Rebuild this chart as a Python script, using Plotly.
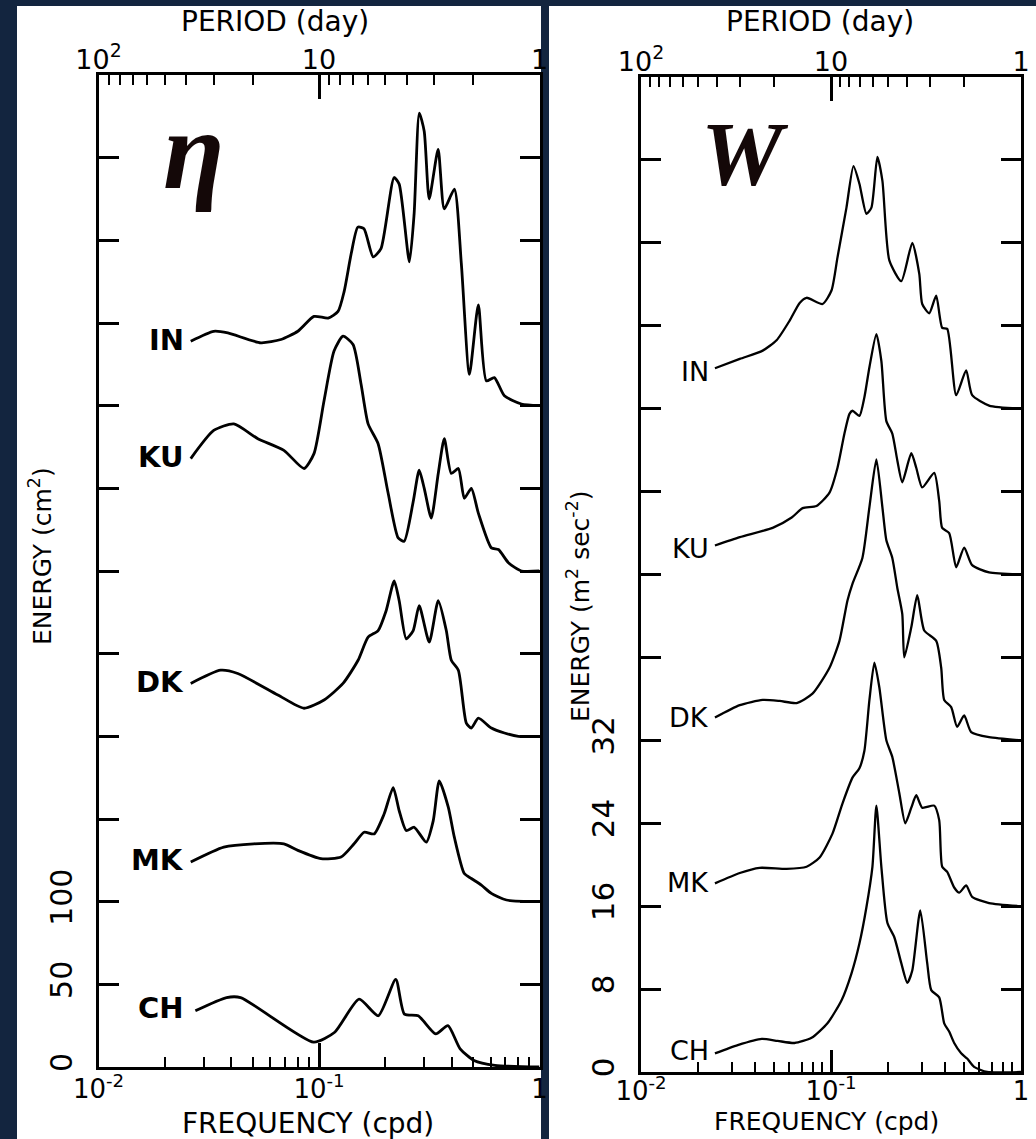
import plotly.graph_objects as go

# ---------------- data (frequency in cpd, energy in panel units) ----------------
# Left panel: sea level eta, energy (cm^2); each station offset by 100
IN_L_F = [0.0262, 0.0333, 0.0386, 0.0545, 0.0672, 0.0802, 0.0949, 0.110, 0.122, 0.130, 0.140, 0.150, 0.160,
          0.176, 0.191, 0.219, 0.231, 0.257, 0.270, 0.285, 0.300, 0.316, 0.347, 0.370, 0.411, 0.442, 0.481,
          0.528, 0.574, 0.624, 0.693, 0.828, 1.0]
IN_L_E = [439, 445, 444, 438, 440, 445, 454, 453, 457, 469, 492, 508, 507, 490, 495, 538, 534, 487, 516, 577,
          566, 525, 555, 519, 531, 486, 419, 461, 415, 417, 406, 401, 400]

KU_L_F = [0.0262, 0.0333, 0.0411, 0.0528, 0.0693, 0.0855, 0.0949, 0.1054, 0.1170, 0.1285, 0.1427, 0.1552,
          0.1670, 0.1854, 0.2059, 0.2286, 0.2434, 0.2675, 0.2847, 0.3001, 0.3229, 0.3474, 0.3700, 0.3981,
          0.4285, 0.4560, 0.4908, 0.5280, 0.6049, 0.6512, 0.7228, 0.8284, 1.0]
KU_L_E = [368, 385, 389, 380, 373, 362, 371, 403, 433, 442, 437, 413, 389, 377, 347, 320, 318, 342, 361, 350,
          332, 359, 380, 359, 362, 344, 350, 335, 314, 313, 305, 300, 300]

DK_L_F = [0.0262, 0.0358, 0.0428, 0.0651, 0.0855, 0.1054, 0.1285, 0.1504, 0.1670, 0.1854, 0.2016, 0.2193,
          0.2310, 0.2486, 0.2675, 0.2847, 0.3162, 0.3474, 0.3778, 0.3981, 0.4285, 0.4657, 0.4908, 0.5280,
          0.6049, 0.6934, 0.8026, 1.0]
DK_L_E = [232, 240, 238, 225, 217, 222, 232, 246, 260, 264, 276, 294, 282, 259, 264, 279, 257, 282, 264, 246,
          240, 208, 205, 211, 205, 202, 200, 200]

MK_L_F = [0.0262, 0.0370, 0.0506, 0.0693, 0.0802, 0.1021, 0.1259, 0.1442, 0.1602, 0.1778, 0.1974, 0.2170,
          0.2310, 0.2486, 0.2703, 0.3065, 0.3297, 0.3511, 0.3860, 0.4109, 0.4560, 0.4908, 0.5450, 0.6049,
          0.7080, 1.0]
MK_L_E = [124, 133, 135, 135, 131, 126, 127, 135, 142, 141, 153, 169, 155, 143, 145, 136, 149, 173, 157, 139,
          117, 114, 110, 105, 101, 100]

CH_L_F = [0.0275, 0.0381, 0.0441, 0.0946, 0.1178, 0.1520, 0.1857, 0.2229, 0.2440, 0.2819, 0.3385, 0.3843,
          0.4366, 0.5047, 0.6281, 1.0]
CH_L_E = [34, 42, 42, 15, 21, 41, 31, 53, 32, 31, 20, 25, 11, 4, 1, 0]

# Right panel: wind stress W, energy (m^2 sec^-2); each station offset by 16
IN_R_F = [0.0245, 0.0331, 0.0437, 0.0517, 0.0606, 0.0684, 0.0744, 0.0903, 0.1006, 0.1082, 0.1206, 0.1313,
          0.1411, 0.1536, 0.1632, 0.1754, 0.1864, 0.2028, 0.2344, 0.2678, 0.2915, 0.3021, 0.3288, 0.3579,
          0.3848, 0.4089, 0.4559, 0.5145, 0.5533, 0.6792, 1.0]
IN_R_E = [67.9, 68.8, 69.6, 70.6, 72.5, 74.2, 74.7, 74.1, 75.4, 78.6, 83.4, 87.4, 85.7, 82.8, 83.4, 88.3,
          86.0, 78.3, 76.3, 80.0, 77.0, 74.1, 73.2, 74.9, 71.8, 71.7, 65.3, 67.7, 65.3, 64.3, 64.0]

KU_R_F = [0.0245, 0.0331, 0.0493, 0.0621, 0.0709, 0.0839, 0.0982, 0.1082, 0.1177, 0.1251, 0.1297, 0.1411,
          0.1499, 0.1593, 0.1733, 0.1841, 0.1956, 0.2102, 0.2234, 0.2372, 0.2646, 0.2810, 0.3021, 0.3494,
          0.3711, 0.3848, 0.4188, 0.4559, 0.5022, 0.5533, 0.6792, 1.0]
KU_R_E = [50.8, 51.6, 52.5, 53.5, 54.4, 54.6, 55.9, 58.3, 61.6, 63.5, 63.8, 63.3, 65.1, 68.0, 71.2, 68.6,
          62.8, 61.6, 59.0, 56.9, 59.7, 58.3, 56.4, 57.8, 55.1, 52.5, 52.0, 48.7, 50.6, 48.9, 48.2, 48.0]

DK_R_F = [0.0245, 0.0331, 0.0437, 0.0537, 0.0659, 0.0799, 0.0982, 0.1108, 0.1221, 0.1297, 0.1463, 0.1593,
          0.1733, 0.1864, 0.1956, 0.2102, 0.2234, 0.2372, 0.2430, 0.2646, 0.2845, 0.3095, 0.3579, 0.3802,
          0.3943, 0.4291, 0.4613, 0.5022, 0.5466, 0.6792, 1.0]
DK_R_E = [34.2, 35.4, 35.9, 35.8, 35.6, 36.5, 39.0, 41.6, 45.5, 47.1, 49.6, 54.5, 59.1, 54.5, 51.3, 49.6,
          46.7, 44.2, 40.0, 42.9, 46.0, 42.6, 41.6, 39.0, 35.9, 35.2, 33.3, 34.4, 32.8, 32.3, 32.0]

MK_R_F = [0.0245, 0.0331, 0.0421, 0.0584, 0.0744, 0.0871, 0.1018, 0.1149, 0.1297, 0.1411, 0.1499, 0.1593,
          0.1692, 0.1797, 0.1956, 0.2102, 0.2289, 0.2460, 0.2646, 0.2810, 0.3021, 0.3494, 0.3711, 0.3848,
          0.4089, 0.4450, 0.4727, 0.5145, 0.5533, 0.6792, 1.0]
MK_R_E = [18.2, 19.2, 19.7, 19.6, 19.8, 20.7, 23.0, 25.9, 28.4, 29.3, 31.0, 35.9, 39.5, 37.1, 32.0, 30.4,
          26.9, 24.0, 25.5, 26.7, 25.5, 25.7, 24.3, 19.8, 19.3, 17.8, 17.3, 18.0, 16.9, 16.3, 16.0]

CH_R_F = [0.0245, 0.0323, 0.0432, 0.0524, 0.0643, 0.0790, 0.0958, 0.1135, 0.1281, 0.1411, 0.1536, 0.1652,
          0.1733, 0.1841, 0.1980, 0.2154, 0.2344, 0.2521, 0.2678, 0.2950, 0.3209, 0.3369, 0.3711, 0.3943,
          0.4188, 0.4450, 0.4842, 0.5207, 0.5664, 0.6632, 1.0]
CH_R_E = [1.8, 2.6, 3.2, 3.0, 2.8, 3.3, 4.7, 6.9, 9.5, 12.4, 15.9, 19.8, 25.7, 19.8, 14.4, 13.0, 10.5, 8.6,
          9.8, 15.6, 10.5, 7.9, 7.2, 4.7, 3.9, 2.8, 1.8, 1.3, 0.5, 0.0, 0.0]

STATIONS = ["IN", "KU", "DK", "MK", "CH"]

# tick definitions
FREQ_MAJOR = [0.01, 0.1, 1]
FREQ_MAJOR_TEXT = ["10<sup>-2</sup>", "10<sup>-1</sup>", "1"]
FREQ_MINOR = [0.02, 0.03, 0.04, 0.05, 0.06, 0.07, 0.08, 0.09, 0.2, 0.3, 0.4, 0.5, 0.6, 0.7, 0.8, 0.9]
PERIOD_MAJOR = [100, 10, 1]
PERIOD_MAJOR_TEXT = ["10<sup>2</sup>", "10", "1"]
PERIOD_MINOR = [90, 80, 70, 60, 50, 40, 30, 20, 9, 8, 7, 6, 5, 4, 3, 2]

Y_L_TICKS = [0, 50, 100]
Y_L_TEXT = ["0", "50", "100"]
Y_L_UNLABELLED = [150, 200, 250, 300, 350, 400, 450, 500, 550, 600]
Y_R_TICKS = [0, 8, 16, 24, 32]
Y_R_TEXT = ["0", "8", "16", "24", "32"]
Y_R_UNLABELLED = [40, 48, 56, 64, 72, 80, 88, 96]

# ---------------- figure ----------------
W, H = 1036, 1139
NAVY = "#13253f"
FONT = "DejaVu Sans"


def fx(p):
    return p / W


def fy(p):
    return 1 - p / H


fig = go.Figure()

left = [(IN_L_F, IN_L_E), (KU_L_F, KU_L_E), (DK_L_F, DK_L_E), (MK_L_F, MK_L_E), (CH_L_F, CH_L_E)]
right = [(IN_R_F, IN_R_E), (KU_R_F, KU_R_E), (DK_R_F, DK_R_E), (MK_R_F, MK_R_E), (CH_R_F, CH_R_E)]

for name, (f, e) in zip(STATIONS, left):
    fig.add_trace(go.Scatter(x=f, y=e, mode="lines", name=name, xaxis="x", yaxis="y",
                             line=dict(color="black", width=2.8, shape="spline", smoothing=0.6),
                             hoverinfo="skip", showlegend=False))
for name, (f, e) in zip(STATIONS, right):
    fig.add_trace(go.Scatter(x=f, y=e, mode="lines", name=name, xaxis="x2", yaxis="y2",
                             line=dict(color="black", width=2.3, shape="spline", smoothing=0.6),
                             hoverinfo="skip", showlegend=False))

# empty traces so that the top (period) axes are drawn
fig.add_trace(go.Scatter(x=[], y=[], xaxis="x3", yaxis="y", showlegend=False, hoverinfo="skip"))
fig.add_trace(go.Scatter(x=[], y=[], xaxis="x4", yaxis="y2", showlegend=False, hoverinfo="skip"))


def xax(domain, anchor, lw, major_len, standoff):
    return dict(type="log", range=[-2, 0], domain=domain, anchor=anchor, automargin=False,
                showline=True, linewidth=lw, linecolor="black", mirror=True,
                ticks="inside", ticklen=major_len, tickwidth=2.5, tickcolor="black",
                tickmode="array", tickvals=FREQ_MAJOR, ticktext=FREQ_MAJOR_TEXT, ticklabelstandoff=standoff,
                tickfont=dict(family=FONT, size=26, color="black"),
                minor=dict(tickmode="array", tickvals=FREQ_MINOR, ticks="inside", ticklen=10,
                           tickwidth=2, tickcolor="black", showgrid=False),
                showgrid=False, zeroline=False, fixedrange=True)


def topax(overlay, anchor):
    return dict(type="log", range=[-2, 0], overlaying=overlay, anchor=anchor, side="top", automargin=False,
                showline=False, ticks="inside", ticklen=24, tickwidth=2.5, tickcolor="black",
                tickmode="array", tickvals=[1 / p for p in PERIOD_MAJOR], ticktext=PERIOD_MAJOR_TEXT,
                tickfont=dict(family=FONT, size=27, color="black"),
                minor=dict(tickmode="array", tickvals=[1 / p for p in PERIOD_MINOR], ticks="inside",
                           ticklen=10, tickwidth=2, tickcolor="black", showgrid=False),
                showgrid=False, zeroline=False, fixedrange=True)


def yax(domain, anchor, rng, tv, tt, minor_vals, lw, size):
    return dict(range=rng, domain=domain, anchor=anchor, automargin=False,
                showline=True, linewidth=lw, linecolor="black",
                mirror="ticks", ticks="inside", ticklen=20, tickwidth=2.5, tickcolor="black",
                tickmode="array", tickvals=tv, ticktext=tt, tickangle=-90, ticklabelstandoff=12,
                tickfont=dict(family=FONT, size=size, color="black"),
                minor=dict(tickmode="array", tickvals=minor_vals, ticks="inside", ticklen=20,
                           tickwidth=2.5, tickcolor="black", showgrid=False),
                showgrid=False, zeroline=False, fixedrange=True)


fig.update_layout(
    width=W, height=H, autosize=False,
    margin=dict(l=0, r=0, t=0, b=0, pad=0),
    paper_bgcolor=NAVY, plot_bgcolor="white",
    xaxis=xax([fx(98.5), fx(539.5)], "y", 3, 24, -3),
    yaxis=yax([1 - 1067 / H, 1 - 75 / H], "x", [0, 600], Y_L_TICKS, Y_L_TEXT, Y_L_UNLABELLED, 3, 30),
    xaxis2=xax([fx(641), fx(1021)], "y2", 2.5, 22, -6),
    yaxis2=yax([1 - 1072 / H, 1 - 77 / H], "x2", [0, 96], Y_R_TICKS, Y_R_TEXT, Y_R_UNLABELLED, 2.5, 31),
    xaxis3=topax("x", "y"),
    xaxis4=topax("x2", "y2"),
)

# white panels on navy background
fig.add_shape(type="rect", xref="paper", yref="paper", x0=fx(17), x1=fx(541), y0=0, y1=fy(6),
              fillcolor="white", line_width=0, layer="below")
fig.add_shape(type="rect", xref="paper", yref="paper", x0=fx(549), x1=1, y0=0, y1=fy(6),
              fillcolor="white", line_width=0, layer="below")


def ann(text, x, y, size, angle=0, bold=False, family=FONT, color="black", xanchor="center",
        yanchor="middle"):
    t = f"<b>{text}</b>" if bold else text
    fig.add_annotation(text=t, x=fx(x), y=fy(y), xref="paper", yref="paper", showarrow=False,
                       textangle=angle, xanchor=xanchor, yanchor=yanchor,
                       font=dict(family=family, size=size, color=color))


# titles
ann("PERIOD (day)", 275, 22, 28)
ann("PERIOD (day)", 820, 22, 28)
ann("FREQUENCY (cpd)", 308, 1123, 28)
ann("FREQUENCY (cpd)", 826, 1138, 25, yanchor="bottom")
ann("ENERGY (cm<sup>2</sup>)", 40, 556, 25, angle=-90)
ann("ENERGY (m<sup>2</sup> sec<sup>-2</sup>)", 578, 606, 25, angle=-90)

# station labels
L_LABEL_Y = [340, 457, 682, 860, 1008]
R_LABEL_Y = [372, 548, 717, 882, 1050]
for name, y in zip(STATIONS, L_LABEL_Y):
    ann(name, 186, y, 29, bold=True, xanchor="right")
for name, y in zip(STATIONS, R_LABEL_Y):
    ann(name, 711, y, 27, xanchor="right")

# panel symbols
ann("<i>η</i>", 193, 150, 112, bold=True, family="Liberation Serif", color="#140808")
ann("<i>W</i>", 745, 154, 92, bold=True, family="Liberation Serif", color="#140808")

fig.write_html("out.html")
